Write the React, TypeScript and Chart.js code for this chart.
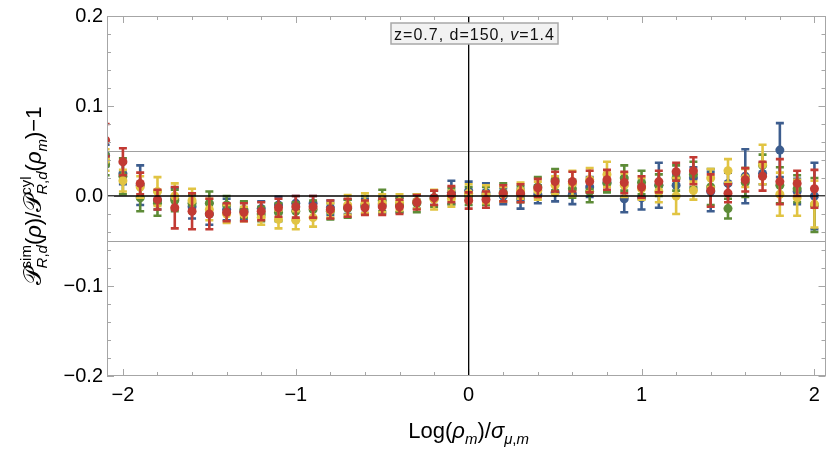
import { useEffect, useRef } from 'react';
import { Chart, registerables } from 'chart.js';
Chart.register(...registerables);

const xValues = [-2.1, -2.0, -1.9, -1.8, -1.7, -1.6, -1.5, -1.4, -1.3, -1.2, -1.1, -1.0, -0.9, -0.8, -0.7, -0.6, -0.5, -0.4, -0.3, -0.2, -0.1, 0.0, 0.1, 0.2, 0.3, 0.4, 0.5, 0.6, 0.7, 0.8, 0.9, 1.0, 1.1, 1.2, 1.3, 1.4, 1.5, 1.6, 1.7, 1.8, 1.9, 2.0];

const blueY = [0.045, 0.025, 0.012, -0.005, -0.003, -0.012, -0.020, -0.015, -0.017, -0.014, -0.010, -0.008, -0.008, -0.013, -0.012, -0.011, -0.010, -0.010, -0.006, -0.002, 0.004, 0.006, 0.004, 0.000, -0.003, 0.002, 0.004, 0.002, 0.010, 0.015, -0.003, -0.002, 0.012, 0.012, 0.020, 0.005, 0.014, 0.022, 0.025, 0.051, 0.005, 0.000];
const blueErr = [0.012, 0.012, 0.022, 0.010, 0.012, 0.013, 0.012, 0.012, 0.010, 0.008, 0.009, 0.008, 0.008, 0.008, 0.008, 0.008, 0.009, 0.008, 0.008, 0.008, 0.013, 0.010, 0.010, 0.009, 0.011, 0.010, 0.010, 0.011, 0.011, 0.010, 0.015, 0.013, 0.025, 0.012, 0.012, 0.022, 0.012, 0.030, 0.012, 0.030, 0.014, 0.037];

const greenY = [0.035, 0.022, -0.002, -0.008, -0.005, -0.008, -0.008, -0.010, -0.015, -0.020, -0.018, -0.017, -0.015, -0.017, -0.014, -0.010, -0.005, -0.010, -0.008, -0.003, 0.000, 0.000, 0.000, 0.004, 0.002, 0.010, 0.018, 0.008, 0.005, 0.014, 0.020, 0.015, 0.012, 0.020, 0.024, 0.010, -0.014, 0.015, 0.034, 0.012, 0.008, -0.010];
const greenErr = [0.012, 0.020, 0.015, 0.014, 0.012, 0.010, 0.013, 0.010, 0.009, 0.008, 0.010, 0.010, 0.010, 0.009, 0.010, 0.010, 0.012, 0.008, 0.010, 0.009, 0.009, 0.010, 0.010, 0.010, 0.009, 0.011, 0.012, 0.010, 0.012, 0.010, 0.014, 0.013, 0.012, 0.014, 0.014, 0.020, 0.011, 0.016, 0.012, 0.020, 0.015, 0.030];

const yellowY = [0.040, 0.017, 0.010, 0.005, 0.000, -0.005, -0.015, -0.020, -0.020, -0.024, -0.026, -0.027, -0.024, -0.016, -0.010, -0.008, -0.008, -0.007, -0.006, -0.004, -0.003, 0.003, 0.002, 0.002, 0.006, 0.006, 0.012, 0.014, 0.018, 0.024, 0.012, 0.008, 0.005, 0.000, 0.006, 0.020, 0.028, 0.020, 0.035, 0.002, -0.002, -0.009];
const yellowErr = [0.012, 0.012, 0.012, 0.016, 0.014, 0.013, 0.012, 0.010, 0.008, 0.008, 0.010, 0.010, 0.010, 0.008, 0.011, 0.011, 0.010, 0.009, 0.008, 0.011, 0.009, 0.010, 0.010, 0.008, 0.009, 0.010, 0.010, 0.014, 0.013, 0.014, 0.013, 0.012, 0.012, 0.020, 0.010, 0.010, 0.013, 0.010, 0.022, 0.024, 0.020, 0.026];

const redY = [0.062, 0.038, 0.014, -0.004, -0.013, -0.017, -0.020, -0.018, -0.018, -0.017, -0.013, -0.012, -0.012, -0.015, -0.013, -0.013, -0.012, -0.012, -0.007, -0.002, 0.002, -0.005, -0.004, 0.003, 0.003, 0.009, 0.016, 0.016, 0.016, 0.018, 0.015, 0.010, 0.016, 0.027, 0.028, 0.006, 0.003, 0.018, 0.022, 0.016, 0.014, 0.008];
const redErr = [0.018, 0.015, 0.012, 0.011, 0.023, 0.020, 0.017, 0.010, 0.010, 0.010, 0.010, 0.012, 0.012, 0.010, 0.010, 0.008, 0.009, 0.008, 0.008, 0.008, 0.009, 0.009, 0.009, 0.009, 0.010, 0.010, 0.011, 0.011, 0.012, 0.011, 0.012, 0.012, 0.012, 0.010, 0.015, 0.018, 0.010, 0.013, 0.016, 0.025, 0.014, 0.021];

const xTickValues = [-2, -1, 0, 1, 2];
const yTickValues = [-0.2, -0.1, 0, 0.1, 0.2];
const gridRefLines = [-0.05, 0.05];
const annotationText = ['z=0.7, d=150, ', 'v', '=1.4'];

const X_MIN = -2.092;
const X_MAX = 2.064;
const Y_MIN = -0.2;
const Y_MAX = 0.2;

const COLORS = { blue: '#3d5d8e', green: '#5d8b37', yellow: '#e1c443', red: '#c23a33' };
const FONT = "'Liberation Sans', Arial, Helvetica, sans-serif";

type Item = { t?: string; size?: number; italic?: boolean; dy?: number; stack?: [Item[], Item[]] };

function fontOf(it: Item) {
  return `${it.italic ? 'italic ' : ''}${it.size || 20}px ${FONT}`;
}
function measure(ctx: CanvasRenderingContext2D, items: Item[]): number {
  let w = 0;
  for (const it of items) {
    if (it.stack) {
      w += Math.max(measure(ctx, it.stack[0]), measure(ctx, it.stack[1]));
    } else {
      ctx.font = fontOf(it);
      w += ctx.measureText(it.t || '').width;
    }
  }
  return w;
}
function drawItems(ctx: CanvasRenderingContext2D, items: Item[], x: number, y: number, extraDy = 0) {
  let cx = x;
  for (const it of items) {
    if (it.stack) {
      const w1 = measure(ctx, it.stack[0]);
      const w2 = measure(ctx, it.stack[1]);
      drawItems(ctx, it.stack[0], cx, y, -10);
      drawItems(ctx, it.stack[1], cx, y, 6);
      cx += Math.max(w1, w2);
    } else {
      ctx.font = fontOf(it);
      ctx.fillText(it.t || '', cx, y + (it.dy || 0) + extraDy);
      cx += ctx.measureText(it.t || '').width;
    }
  }
  return cx;
}
function drawRichCentered(ctx: CanvasRenderingContext2D, items: Item[], cx: number, y: number) {
  const w = measure(ctx, items);
  ctx.textAlign = 'left';
  ctx.textBaseline = 'alphabetic';
  drawItems(ctx, items, cx - w / 2, y);
}

const SP = '\u{1D4AB}';
const RD: Item[] = [{ t: 'R', size: 15, italic: true }, { t: ',', size: 15 }, { t: 'd', size: 15, italic: true }];
const yTitle: Item[] = [
  { t: SP, size: 24 },
  { stack: [[{ t: 'sim', size: 15 }], RD] },
  { t: '(', size: 22 }, { t: 'ρ', size: 22, italic: true }, { t: ')/', size: 22 },
  { t: SP, size: 24 },
  { stack: [[{ t: 'cyl', size: 15 }], RD] },
  { t: '(', size: 22 }, { t: 'ρ', size: 22, italic: true }, { t: 'm', size: 15, italic: true, dy: 6 },
  { t: ')\u22121', size: 22 },
];
const xTitle: Item[] = [
  { t: 'Log(', size: 22 }, { t: 'ρ', size: 22, italic: true }, { t: 'm', size: 15, italic: true, dy: 6 },
  { t: ')/', size: 22 }, { t: 'σ', size: 22, italic: true },
  { t: 'μ', size: 15, italic: true, dy: 6 }, { t: ',', size: 15, dy: 6 }, { t: 'm', size: 15, italic: true, dy: 6 },
];

const errorBarPlugin = {
  id: 'errorBars',
  beforeDatasetDraw(chart: any, args: any) {
    const ds = chart.data.datasets[args.index];
    const errs: number[] = ds.errors;
    if (!errs) return;
    const { ctx, chartArea: ca, scales } = chart;
    const xs = scales.x, ys = scales.y;
    ctx.save();
    ctx.beginPath();
    ctx.rect(ca.left, ca.top, ca.right - ca.left, ca.bottom - ca.top);
    ctx.clip();
    ctx.strokeStyle = ds.backgroundColor;
    ctx.lineWidth = 2.6;
    ds.data.forEach((p: any, i: number) => {
      const px = xs.getPixelForValue(p.x);
      const yt = ys.getPixelForValue(p.y + errs[i]);
      const yb = ys.getPixelForValue(p.y - errs[i]);
      ctx.beginPath();
      ctx.moveTo(px, yt); ctx.lineTo(px, yb);
      ctx.moveTo(px - 4, yt); ctx.lineTo(px + 4, yt);
      ctx.moveTo(px - 4, yb); ctx.lineTo(px + 4, yb);
      ctx.stroke();
    });
    ctx.restore();
  },
};

const decorPlugin = {
  id: 'decor',
  beforeDatasetsDraw(chart: any) {
    const { ctx, chartArea: ca, scales } = chart;
    ctx.save();
    ctx.strokeStyle = '#a0a0a0';
    ctx.lineWidth = 1;
    for (const v of gridRefLines) {
      const py = Math.round(scales.y.getPixelForValue(v)) + 0.5;
      ctx.beginPath(); ctx.moveTo(ca.left, py); ctx.lineTo(ca.right, py); ctx.stroke();
    }
    ctx.restore();
  },
  afterDatasetsDraw(chart: any) {
    const { ctx, chartArea: ca, scales } = chart;
    ctx.save();
    ctx.strokeStyle = '#000';
    ctx.lineWidth = 1.3;
    const y0 = scales.y.getPixelForValue(0);
    const x0 = scales.x.getPixelForValue(0);
    ctx.beginPath(); ctx.moveTo(ca.left, y0); ctx.lineTo(ca.right, y0); ctx.stroke();
    ctx.beginPath(); ctx.moveTo(x0, ca.top); ctx.lineTo(x0, ca.bottom); ctx.stroke();
    ctx.restore();
  },
  afterDraw(chart: any) {
    const { ctx, chartArea: ca, scales } = chart;
    ctx.save();
    ctx.strokeStyle = '#a6a6a6';
    ctx.lineWidth = 1;
    ctx.strokeRect(Math.round(ca.left) + 0.5, Math.round(ca.top) + 0.5, Math.round(ca.right - ca.left) - 1, Math.round(ca.bottom - ca.top) - 1);
    for (let k = -10; k <= 10; k++) {
      const v = k * 0.2;
      if (v < X_MIN || v > X_MAX) continue;
      const major = k % 5 === 0;
      const len = major ? 7 : 4;
      const px = Math.round(scales.x.getPixelForValue(v)) + 0.5;
      ctx.beginPath();
      ctx.moveTo(px, ca.bottom); ctx.lineTo(px, ca.bottom - len);
      ctx.moveTo(px, ca.top); ctx.lineTo(px, ca.top + len);
      ctx.stroke();
    }
    for (let k = -10; k <= 10; k++) {
      const v = k * 0.02;
      const major = k % 5 === 0;
      const len = major ? 7 : 4;
      const py = Math.round(scales.y.getPixelForValue(v)) + 0.5;
      ctx.beginPath();
      ctx.moveTo(ca.left, py); ctx.lineTo(ca.left + len, py);
      ctx.moveTo(ca.right, py); ctx.lineTo(ca.right - len, py);
      ctx.stroke();
    }
    ctx.fillStyle = '#000';
    drawRichCentered(ctx, xTitle, scales.x.getPixelForValue(0), 438);
    ctx.save();
    ctx.translate(41, (ca.top + ca.bottom) / 2);
    ctx.rotate(-Math.PI / 2);
    drawRichCentered(ctx, yTitle, 0, 0);
    ctx.restore();
    const bx = 391, by = 23, bw = 167, bh = 21;
    ctx.fillStyle = '#f2f2f2';
    ctx.fillRect(bx, by, bw, bh);
    ctx.strokeStyle = '#a8a8a8';
    ctx.lineWidth = 1.5;
    ctx.strokeRect(bx, by, bw, bh);
    ctx.fillStyle = '#111';
    ctx.textBaseline = 'alphabetic';
    ctx.textAlign = 'left';
    (ctx as any).letterSpacing = '1px';
    const parts: Item[] = [
      { t: annotationText[0], size: 16 },
      { t: annotationText[1], size: 16, italic: true },
      { t: annotationText[2], size: 16 },
    ];
    const w = measure(ctx, parts);
    drawItems(ctx, parts, bx + bw / 2 - w / 2, 40);
    (ctx as any).letterSpacing = '0px';
    ctx.restore();
  },
};

function mkData(ys: number[]) {
  return xValues.map((x, i) => ({ x, y: ys[i] }));
}

export default function App() {
  const ref = useRef<HTMLCanvasElement>(null);
  useEffect(() => {
    document.body.style.margin = '0';
    const canvas = ref.current!;
    const series = [
      { label: 'blue', ys: blueY, errs: blueErr, color: COLORS.blue, order: 4 },
      { label: 'green', ys: greenY, errs: greenErr, color: COLORS.green, order: 3 },
      { label: 'yellow', ys: yellowY, errs: yellowErr, color: COLORS.yellow, order: 2 },
      { label: 'red', ys: redY, errs: redErr, color: COLORS.red, order: 1 },
    ];
    const chart = new Chart(canvas, {
      type: 'scatter',
      data: {
        datasets: series.map((s) => ({
          label: s.label,
          data: mkData(s.ys),
          errors: s.errs,
          backgroundColor: s.color,
          borderColor: s.color,
          pointRadius: 4.5,
          pointBorderWidth: 0,
          pointHoverRadius: 4.5,
          showLine: false,
          order: s.order,
          clip: 0,
        })) as any,
      },
      options: {
        animation: false,
        responsive: false,
        devicePixelRatio: 1,
        layout: { padding: { top: 14, right: 4, left: 0, bottom: 0 } },
        plugins: { legend: { display: false }, tooltip: { enabled: false } },
        events: [],
        scales: {
          x: {
            type: 'linear',
            min: X_MIN,
            max: X_MAX,
            grid: { display: false, drawTicks: false },
            border: { display: false },
            afterBuildTicks: (s: any) => { s.ticks = xTickValues.map((v) => ({ value: v })); },
            afterFit: (s: any) => { s.height = 79; },
            ticks: {
              padding: 7,
              color: '#000',
              font: { family: FONT, size: 20 },
              maxRotation: 0,
              autoSkip: false,
              callback: (v: any) => (Number(v) < 0 ? '\u2212' + Math.abs(Number(v)) : String(Number(v))),
            },
          },
          y: {
            type: 'linear',
            min: Y_MIN,
            max: Y_MAX,
            grid: { display: false, drawTicks: false },
            border: { display: false },
            afterBuildTicks: (s: any) => { s.ticks = yTickValues.map((v) => ({ value: v })); },
            afterFit: (s: any) => { s.width = 107; },
            ticks: {
              padding: 4,
              color: '#000',
              font: { family: FONT, size: 20 },
              autoSkip: false,
              callback: (v: any) => {
                const n = Number(v);
                const s = Math.abs(n).toFixed(1);
                return n < -1e-9 ? '\u2212' + s : s;
              },
            },
          },
        },
      } as any,
      plugins: [errorBarPlugin, decorPlugin],
    });
    return () => chart.destroy();
  }, []);
  return (
    <div style={{ width: 830, height: 455, position: 'relative' }}>
      <canvas ref={ref} width={830} height={455} />
    </div>
  );
}
